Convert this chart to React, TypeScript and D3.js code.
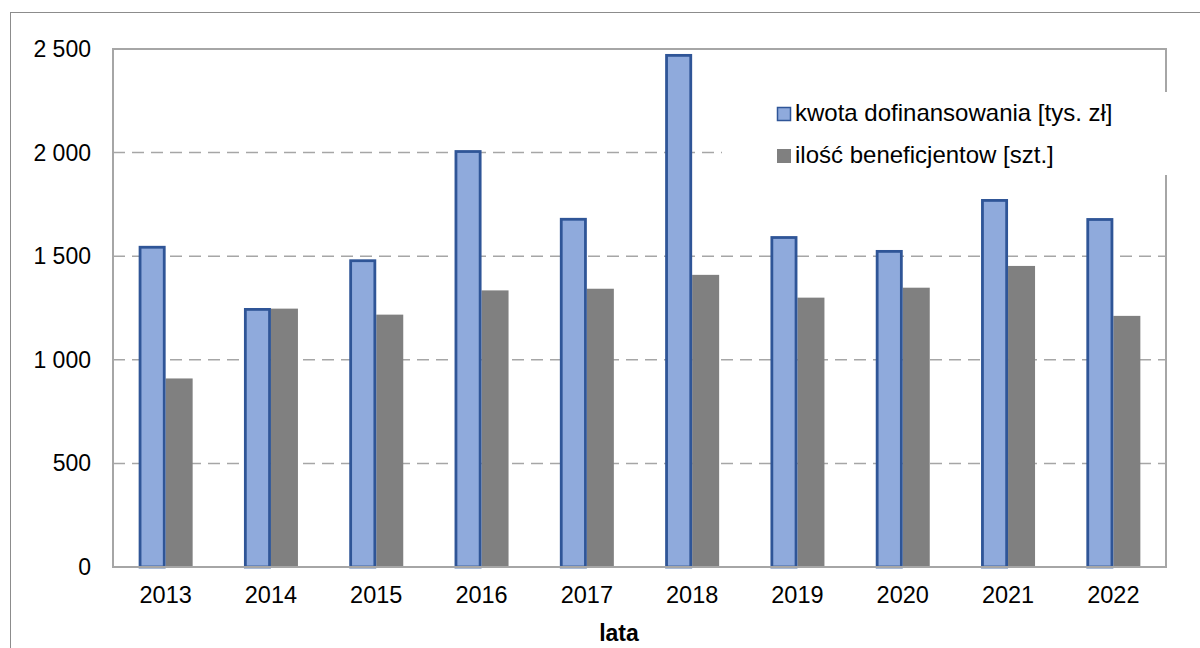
import React from "react";
import * as d3 from "d3";

const years = ["2013", "2014", "2015", "2016", "2017", "2018", "2019", "2020", "2021", "2022"];
const kwota = [1550, 1250, 1485, 2012, 1685, 2476, 1597, 1530, 1776, 1684];
const beneficjenci = [910, 1247, 1218, 1335, 1343, 1410, 1300, 1348, 1453, 1212];
const seriesNames = ["kwota dofinansowania [tys. zł]", "ilość beneficjentow [szt.]"];
const yTicks = [0, 500, 1000, 1500, 2000, 2500];
const xTitle = "lata";

const W = 1200;
const H = 648;
const plot = { left: 113, top: 49, right: 1166, bottom: 567 };
const FONT = "'Liberation Sans', Arial, sans-serif";
const BLUE = "#8faadc";
const BLUE_STROKE = "#2f5597";
const GRAY = "#808080";
const GRID = "#a6a6a6";

const fmt = (v: number) => d3.format(",")(v).replace(/,/g, " ");

export default function App() {
  const x0 = d3.scaleBand<string>().domain(years).range([plot.left, plot.right]).padding(0);
  const pairW = 54;
  const x1 = d3
    .scaleBand<string>()
    .domain(seriesNames)
    .range([(x0.bandwidth() - pairW) / 2, (x0.bandwidth() + pairW) / 2])
    .padding(0);
  const y = d3.scaleLinear().domain([0, 2500]).range([plot.bottom, plot.top]);
  const bw = x1.bandwidth();
  const sw = 2.8;

  return (
    <svg
      width={W}
      height={H}
      style={{ position: "absolute", left: 0, top: 0, background: "#fff" }}
      fontFamily={FONT}
    >
      <rect x={0} y={0} width={W} height={H} fill="#fff" />
      {/* outer frame */}
      <rect x={10.5} y={12.5} width={W + 20} height={H + 20} fill="none" stroke="#8c8c8c" strokeWidth={1} />

      {/* gridlines */}
      {yTicks
        .filter((t) => t > 0 && t < 2500)
        .map((t) => (
          <line
            key={t}
            x1={plot.left}
            x2={plot.right}
            y1={y(t)}
            y2={y(t)}
            stroke={GRID}
            strokeWidth={1.5}
            strokeDasharray="12 7"
          />
        ))}

      {/* bars */}
      {years.map((yr, i) => {
        const bx = x0(yr)!;
        const kx = bx + x1(seriesNames[0])!;
        const gx = bx + x1(seriesNames[1])!;
        return (
          <g key={yr}>
            <rect
              x={gx}
              y={y(beneficjenci[i])}
              width={bw}
              height={plot.bottom - y(beneficjenci[i])}
              fill={GRAY}
            />
            <rect
              x={kx + sw / 2}
              y={y(kwota[i]) + sw / 2}
              width={bw - sw}
              height={plot.bottom - y(kwota[i]) - sw / 2}
              fill={BLUE}
              stroke={BLUE_STROKE}
              strokeWidth={sw}
            />
          </g>
        );
      })}

      {/* plot border */}
      <rect
        x={plot.left}
        y={plot.top}
        width={plot.right - plot.left}
        height={plot.bottom - plot.top}
        fill="none"
        stroke={GRID}
        strokeWidth={2}
      />

      {/* y tick labels */}
      {yTicks.map((t) => (
        <text
          key={t}
          x={91}
          y={y(t)}
          textAnchor="end"
          dominantBaseline="central"
          fontSize={23}
          fill="#000"
        >
          {fmt(t)}
        </text>
      ))}

      {/* x tick labels */}
      {years.map((yr) => (
        <text
          key={yr}
          x={x0(yr)! + x0.bandwidth() / 2}
          y={603}
          textAnchor="middle"
          fontSize={23.5}
          fill="#000"
        >
          {yr}
        </text>
      ))}

      <text x={619} y={641} textAnchor="middle" fontSize={23} fontWeight="bold" fill="#000">
        {xTitle}
      </text>

      {/* legend */}
      <rect x={722} y={92} width={450} height={83} fill="#fff" />
      <rect x={777.5} y={107.5} width={13} height={13} fill={BLUE} stroke={BLUE_STROKE} strokeWidth={1.5} />
      <text x={795} y={121} fontSize={24} fill="#000">
        {seriesNames[0]}
      </text>
      <rect x={777} y={149} width={14} height={14} fill={GRAY} />
      <text x={795} y={163} fontSize={24} fill="#000">
        {seriesNames[1]}
      </text>
    </svg>
  );
}
